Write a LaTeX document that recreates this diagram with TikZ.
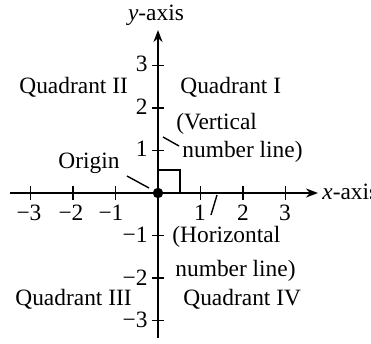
\documentclass[tikz,border=0pt]{standalone}
\usepackage{fontspec}
\setmainfont{Liberation Serif}
\usetikzlibrary{arrows.meta}
\begin{document}
\begin{tikzpicture}[x=0.5pt,y=-0.5pt,
  every node/.style={font=\fontsize{11.7}{13}\selectfont, inner sep=0pt},
  axis/.style={line width=1pt, -{Stealth[length=6pt,width=4.5pt]}},
  tick/.style={line width=0.8pt},
  leader/.style={line width=0.7pt}]
\useasboundingbox (0,0) rectangle (371,344);
% origin
\coordinate (O) at (158,193);
\coordinate (xs) at (10,193);
\coordinate (xe) at (318,193);
\coordinate (ys) at (158,338);
\coordinate (ye) at (158,30);
\draw[axis] (xs) -- (xe);
\draw[axis] (ys) -- (ye);
% right-angle box
\draw[line width=0.7pt] (158,170) -- (180,170) -- (180,193);
% x ticks
\foreach \k in {-3,-2,-1,1,2,3}{
  \draw[tick] ({158+42.5*\k},186) -- ({158+42.5*\k},200);
}
\node (xm3) at (29,213) {−3};
\node (xm2) at (71,213) {−2};
\node (xm1) at (111,213) {−1};
\node (xp1) at (200,213) {1};
\node (xp2) at (243,213) {2};
\node (xp3) at (285,213) {3};
% y ticks
\foreach \k in {-3,-2,-1,1,2,3}{
  \draw[tick] (152,{193-42.5*\k}) -- (164,{193-42.5*\k});
}
\node[anchor=east] (yp3) at (148,64) {3};
\node[anchor=east] (yp2) at (148,107) {2};
\node[anchor=east] (yp1) at (148,149) {1};
\node[anchor=east] (ym1) at (148,235) {−1};
\node[anchor=east] (ym2) at (148,278) {−2};
\node[anchor=east] (ym3) at (148,320) {−3};
% axis labels
\node (ylab) at (156,15) {\textit{y}-axis};
\node[anchor=west] (xlab) at (322,192) {\textit{x}-axis};
% dot
\fill (O) circle[radius=2.6pt];
% quadrants
\node[anchor=west] (q2) at (19,87) {Quadrant II};
\node[anchor=west] (q1) at (180,87) {Quadrant I};
\node[anchor=west] (q3) at (15,299) {Quadrant III};
\node[anchor=west] (q4) at (183,299) {Quadrant IV};
% origin label
\node[anchor=west] (orig) at (58,163) {Origin};
\coordinate (oa) at (127,176);
\coordinate (ob) at (149,188);
\draw[leader] (oa) -- (ob);
% vertical number line
\node[anchor=west] (v1) at (176,124) {(Vertical};
\node[anchor=west] (v2) at (182,152) {number line)};
\coordinate (va) at (163,137);
\coordinate (vb) at (179,146);
\draw[leader] (va) -- (vb);
% horizontal number line
\node[anchor=west] (h1) at (172,237) {(Horizontal};
\node[anchor=west] (h2) at (175,271) {number line)};
\coordinate (ha) at (217,195);
\coordinate (hb) at (211,215);
\draw[leader] (ha) -- (hb);
\end{tikzpicture}
\end{document}
